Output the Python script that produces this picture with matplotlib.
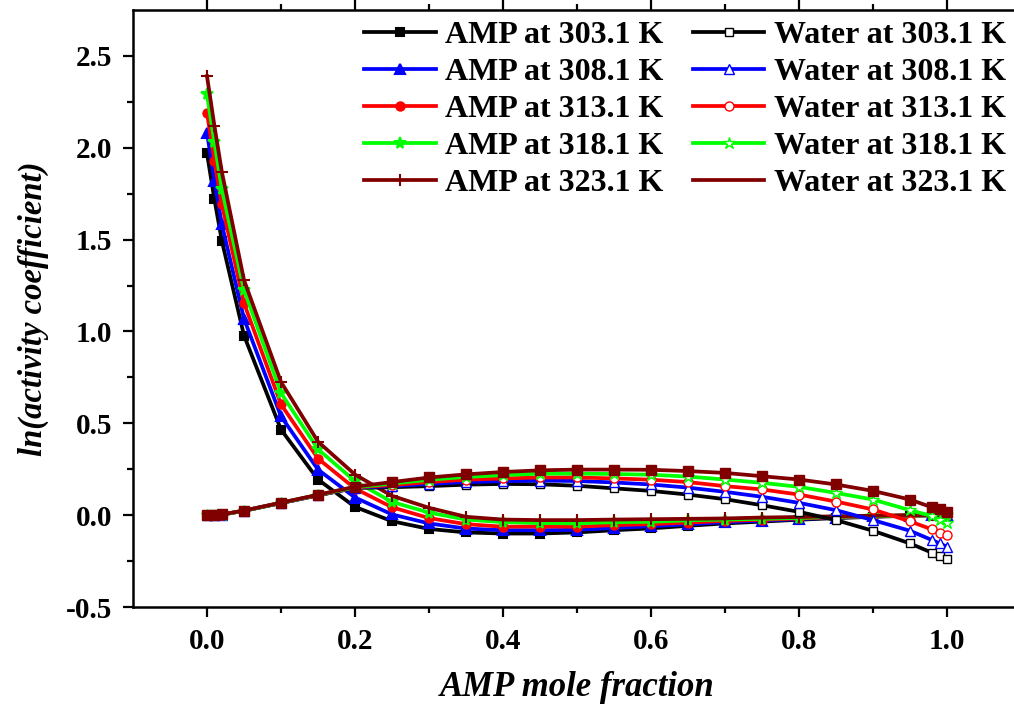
import matplotlib
matplotlib.use('Agg')
import matplotlib.pyplot as plt
from matplotlib.lines import Line2D

plt.rcParams['font.family'] = ['Liberation Serif', 'DejaVu Serif']
plt.rcParams['font.weight'] = 'bold'

# AMP mole fraction
x = [0, 0.01, 0.02, 0.05, 0.10, 0.15, 0.20, 0.25, 0.30, 0.35, 0.40, 0.45, 0.50,
     0.55, 0.60, 0.65, 0.70, 0.75, 0.80, 0.85, 0.90, 0.95, 0.98, 0.99, 1.0]

temps = ['303.1', '308.1', '313.1', '318.1', '323.1']
colors = ['black', '#0000ff', '#ff0000', '#00ff00', '#800000']

# ln(activity coefficient) of AMP
amp_303 = [1.97, 1.72, 1.495, 0.978, 0.466, 0.194, 0.045, -0.033, -0.075, -0.094, -0.100, -0.100, -0.094,
           -0.082, -0.072, -0.058, -0.045, -0.035, -0.025, -0.016, -0.009, -0.003, -0.001, 0.0, 0.0]
amp_308 = [2.083, 1.82, 1.585, 1.069, 0.538, 0.248, 0.096, 0.004, -0.045, -0.073, -0.082, -0.082, -0.080,
           -0.070, -0.060, -0.050, -0.038, -0.030, -0.021, -0.013, -0.007, -0.002, -0.001, 0.0, 0.0]
amp_313 = [2.19, 1.93, 1.694, 1.154, 0.603, 0.308, 0.145, 0.043, -0.016, -0.049, -0.063, -0.062, -0.063,
           -0.054, -0.049, -0.040, -0.031, -0.025, -0.018, -0.011, -0.006, -0.002, -0.001, 0.0, 0.0]
amp_318 = [2.29, 2.03, 1.776, 1.227, 0.665, 0.359, 0.185, 0.072, 0.014, -0.024, -0.038, -0.043, -0.045,
           -0.038, -0.036, -0.028, -0.024, -0.020, -0.015, -0.009, -0.005, -0.002, -0.001, 0.0, 0.0]
amp_323 = [2.39, 2.12, 1.87, 1.28, 0.725, 0.400, 0.221, 0.105, 0.040, -0.009, -0.024, -0.027, -0.027,
           -0.024, -0.022, -0.020, -0.018, -0.013, -0.010, -0.006, -0.003, 0.0, 0.0, 0.0, 0.0]

# ln(activity coefficient) of water
water_303 = [0, 0.001, 0.003, 0.024, 0.066, 0.108, 0.148, 0.152, 0.158, 0.166, 0.170, 0.168, 0.160,
             0.146, 0.132, 0.112, 0.087, 0.054, 0.018, -0.027, -0.085, -0.154, -0.205, -0.223, -0.241]
water_308 = [0, 0.001, 0.003, 0.024, 0.066, 0.108, 0.150, 0.158, 0.170, 0.180, 0.185, 0.188, 0.186,
             0.178, 0.167, 0.150, 0.127, 0.100, 0.067, 0.027, -0.027, -0.085, -0.136, -0.154, -0.172]
water_313 = [0, 0.001, 0.003, 0.024, 0.067, 0.109, 0.151, 0.164, 0.180, 0.193, 0.200, 0.205, 0.205,
             0.200, 0.193, 0.180, 0.158, 0.140, 0.112, 0.074, 0.031, -0.034, -0.078, -0.096, -0.109]
water_318 = [0, 0.001, 0.003, 0.024, 0.067, 0.110, 0.152, 0.172, 0.193, 0.208, 0.218, 0.226, 0.226,
             0.224, 0.220, 0.210, 0.194, 0.176, 0.154, 0.121, 0.085, 0.027, -0.005, -0.027, -0.042]
water_323 = [0, 0.001, 0.004, 0.025, 0.068, 0.111, 0.155, 0.180, 0.205, 0.222, 0.235, 0.244, 0.248,
             0.248, 0.247, 0.240, 0.230, 0.212, 0.194, 0.167, 0.132, 0.085, 0.042, 0.031, 0.018]

amp = [amp_303, amp_308, amp_313, amp_318, amp_323]
water = [water_303, water_308, water_313, water_318, water_323]

amp_markers = ['s', '^', 'o', '*', '+']
amp_ms = [5.5, 6.5, 6, 8.5, 9]
water_markers = ['s', '^', 'o', '*', 's']
water_ms = [6, 7, 6.5, 9, 7]

fig = plt.figure(figsize=(10.14, 7.09), dpi=100)
ax = fig.add_axes([133 / 1014, 102 / 709, 888 / 1014, 597 / 709])

handles = []
for i in range(5):
    h, = ax.plot(x, amp[i], color=colors[i], lw=2.7, marker=amp_markers[i],
                 ms=amp_ms[i], mfc=colors[i], mec=colors[i], mew=1.5,
                 label='AMP at %s K' % temps[i])
    handles.append(h)
for i in range(5):
    face = colors[i] if i == 4 else 'white'
    h, = ax.plot(x, water[i], color=colors[i], lw=2.7, marker=water_markers[i],
                 ms=water_ms[i], mfc=face, mec=colors[i], mew=1.0,
                 label='Water at %s K' % temps[i])
    if i == 4:
        h = Line2D([], [], color=colors[i], lw=2.7)
    handles.append(h)

labels = ['AMP at %s K' % t for t in temps] + ['Water at %s K' % t for t in temps]

ax.set_xlim(-0.1, 1.1)
ax.set_ylim(-0.5, 2.75)
ax.set_xticks([0.0, 0.2, 0.4, 0.6, 0.8, 1.0])
ax.set_xticks([0.1, 0.3, 0.5, 0.7, 0.9], minor=True)
ax.set_yticks([-0.5, 0.0, 0.5, 1.0, 1.5, 2.0, 2.5])
ax.set_yticks([-0.25, 0.25, 0.75, 1.25, 1.75, 2.25], minor=True)
ax.xaxis.set_major_formatter(plt.FormatStrFormatter('%.1f'))
ax.yaxis.set_major_formatter(plt.FormatStrFormatter('%.1f'))

ax.tick_params(which='both', direction='out', width=1.6, labelsize=21)
ax.tick_params(which='major', length=7, pad=8)
ax.tick_params(which='minor', length=4.5)
ax.tick_params(axis='x', which='both', top=True)
for s in ax.spines.values():
    s.set_linewidth(1.8)

ax.set_xlabel('AMP mole fraction', fontsize=25, fontstyle='italic',
              fontweight='bold', labelpad=12)
ax.set_ylabel('ln(activity coefficient)', fontsize=23.5, fontstyle='italic',
              fontweight='bold', labelpad=12)

ax.legend(handles, labels, ncol=2, frameon=False,
          prop={'size': 23, 'weight': 'bold'},
          loc='upper left', bbox_to_anchor=(364 / 1014, 1 - 21 / 709),
          bbox_transform=fig.transFigure, borderaxespad=0, borderpad=0,
          handlelength=2.25, handletextpad=0.3, columnspacing=0.9,
          labelspacing=0.24)

fig.savefig('out.png', dpi=100)
